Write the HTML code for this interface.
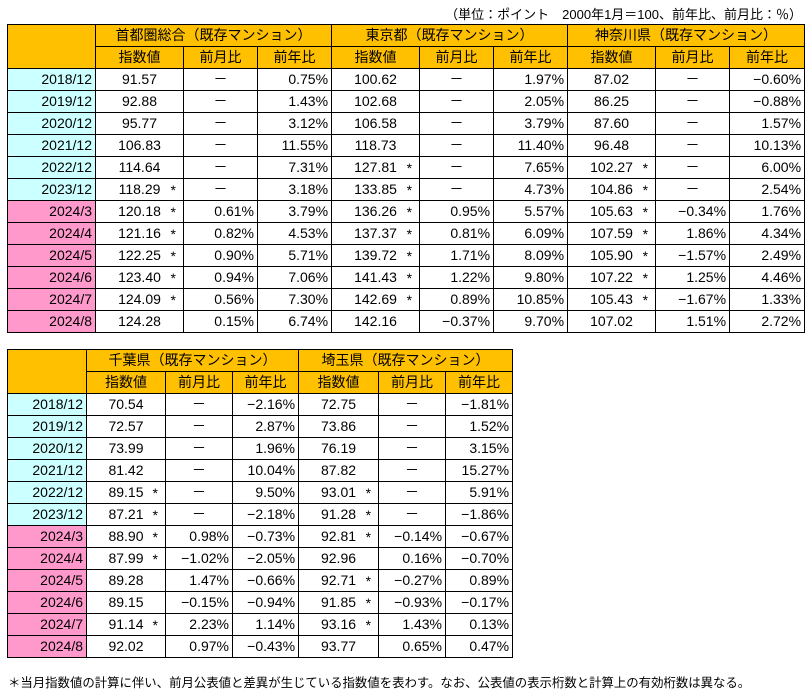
<!DOCTYPE html>
<html><head><meta charset="utf-8"><style>
body{margin:0;width:812px;height:693px;background:#fff;font-family:"Liberation Sans","Noto Sans CJK JP",sans-serif;font-size:14px;color:#000;position:relative;overflow:hidden}
table{position:absolute;border-collapse:collapse;table-layout:fixed}
td{border:1px solid #000;padding:0 3px;height:22px;line-height:21px;white-space:nowrap;position:relative;box-sizing:border-box}
.h{background:#FFC000;text-align:center}
.c{background:#CCFFFF;text-align:right}
.p{background:#FF99CC;text-align:right}
.v{text-align:center}
.m{text-align:center}
.r{text-align:right}
.s{position:absolute;right:7px;top:1px}
.note{position:absolute;font-size:13px;white-space:nowrap}
</style></head><body>
<div class="note" style="right:10px;top:4px">（単位：ポイント　2000年1月＝100、前年比、前月比：％）</div>
<table id="t1" style="left:7px;top:24px;width:797px">
<colgroup><col style="width:88px"><col style="width:88px"><col style="width:74px"><col style="width:74px"><col style="width:88px"><col style="width:74px"><col style="width:74px"><col style="width:88px"><col style="width:74px"><col style="width:75px"></colgroup>
<tr><td class="h" rowspan="2"></td><td class="h" colspan="3">首都圏総合（既存マンション）</td><td class="h" colspan="3">東京都（既存マンション）</td><td class="h" colspan="3">神奈川県（既存マンション）</td></tr>
<tr><td class="h">指数値</td><td class="h">前月比</td><td class="h">前年比</td><td class="h">指数値</td><td class="h">前月比</td><td class="h">前年比</td><td class="h">指数値</td><td class="h">前月比</td><td class="h">前年比</td></tr>
<tbody id="b1"></tbody></table>
<table id="t2" style="left:7px;top:349px;width:505px">
<colgroup><col style="width:79px"><col style="width:79px"><col style="width:67px"><col style="width:66px"><col style="width:80px"><col style="width:67px"><col style="width:67px"></colgroup>
<tr><td class="h" rowspan="2"></td><td class="h" colspan="3">千葉県（既存マンション）</td><td class="h" colspan="3">埼玉県（既存マンション）</td></tr>
<tr><td class="h">指数値</td><td class="h">前月比</td><td class="h">前年比</td><td class="h">指数値</td><td class="h">前月比</td><td class="h">前年比</td></tr>
<tbody id="b2"></tbody></table>
<div class="note" style="left:8px;top:673px;font-size:12.4px">＊当月指数値の計算に伴い、前月公表値と差異が生じている指数値を表わす。なお、公表値の表示桁数と計算上の有効桁数は異なる。</div>
<script>
var L=["2018/12","2019/12","2020/12","2021/12","2022/12","2023/12","2024/3","2024/4","2024/5","2024/6","2024/7","2024/8"];
var d1=[
["91.57","－","0.75%","100.62","－","1.97%","87.02","－","-0.60%"],
["92.88","－","1.43%","102.68","－","2.05%","86.25","－","-0.88%"],
["95.77","－","3.12%","106.58","－","3.79%","87.60","－","1.57%"],
["106.83","－","11.55%","118.73","－","11.40%","96.48","－","10.13%"],
["114.64","－","7.31%","127.81*","－","7.65%","102.27*","－","6.00%"],
["118.29*","－","3.18%","133.85*","－","4.73%","104.86*","－","2.54%"],
["120.18*","0.61%","3.79%","136.26*","0.95%","5.57%","105.63*","-0.34%","1.76%"],
["121.16*","0.82%","4.53%","137.37*","0.81%","6.09%","107.59*","1.86%","4.34%"],
["122.25*","0.90%","5.71%","139.72*","1.71%","8.09%","105.90*","-1.57%","2.49%"],
["123.40*","0.94%","7.06%","141.43*","1.22%","9.80%","107.22*","1.25%","4.46%"],
["124.09*","0.56%","7.30%","142.69*","0.89%","10.85%","105.43*","-1.67%","1.33%"],
["124.28","0.15%","6.74%","142.16","-0.37%","9.70%","107.02","1.51%","2.72%"]];
var d2=[
["70.54","－","-2.16%","72.75","－","-1.81%"],
["72.57","－","2.87%","73.86","－","1.52%"],
["73.99","－","1.96%","76.19","－","3.15%"],
["81.42","－","10.04%","87.82","－","15.27%"],
["89.15*","－","9.50%","93.01*","－","5.91%"],
["87.21*","－","-2.18%","91.28*","－","-1.86%"],
["88.90*","0.98%","-0.73%","92.81*","-0.14%","-0.67%"],
["87.99*","-1.02%","-2.05%","92.96","0.16%","-0.70%"],
["89.28","1.47%","-0.66%","92.71*","-0.27%","0.89%"],
["89.15","-0.15%","-0.94%","91.85*","-0.93%","-0.17%"],
["91.14*","2.23%","1.14%","93.16*","1.43%","0.13%"],
["92.02","0.97%","-0.43%","93.77","0.65%","0.47%"]];
function fm(s){return s.replace(/^-/,"−")}
function build(id,data){var h="";data.forEach(function(r,i){h+='<tr><td class="'+(i<6?'c':'p')+'">'+L[i]+'</td>';
r.forEach(function(v,j){var k=j%3;if(k==0){var st=v.indexOf("*")>=0;v=v.replace("*","");h+='<td class="v">'+v+(st?'<span class="s">*</span>':'')+'</td>';}
else if(k==1)h+='<td class="'+(v=="－"?"m":"r")+'">'+fm(v)+'</td>';else h+='<td class="r">'+fm(v)+'</td>';});h+='</tr>';});
document.getElementById(id).innerHTML=h;}
build("b1",d1);build("b2",d2);
</script>
</body></html>
